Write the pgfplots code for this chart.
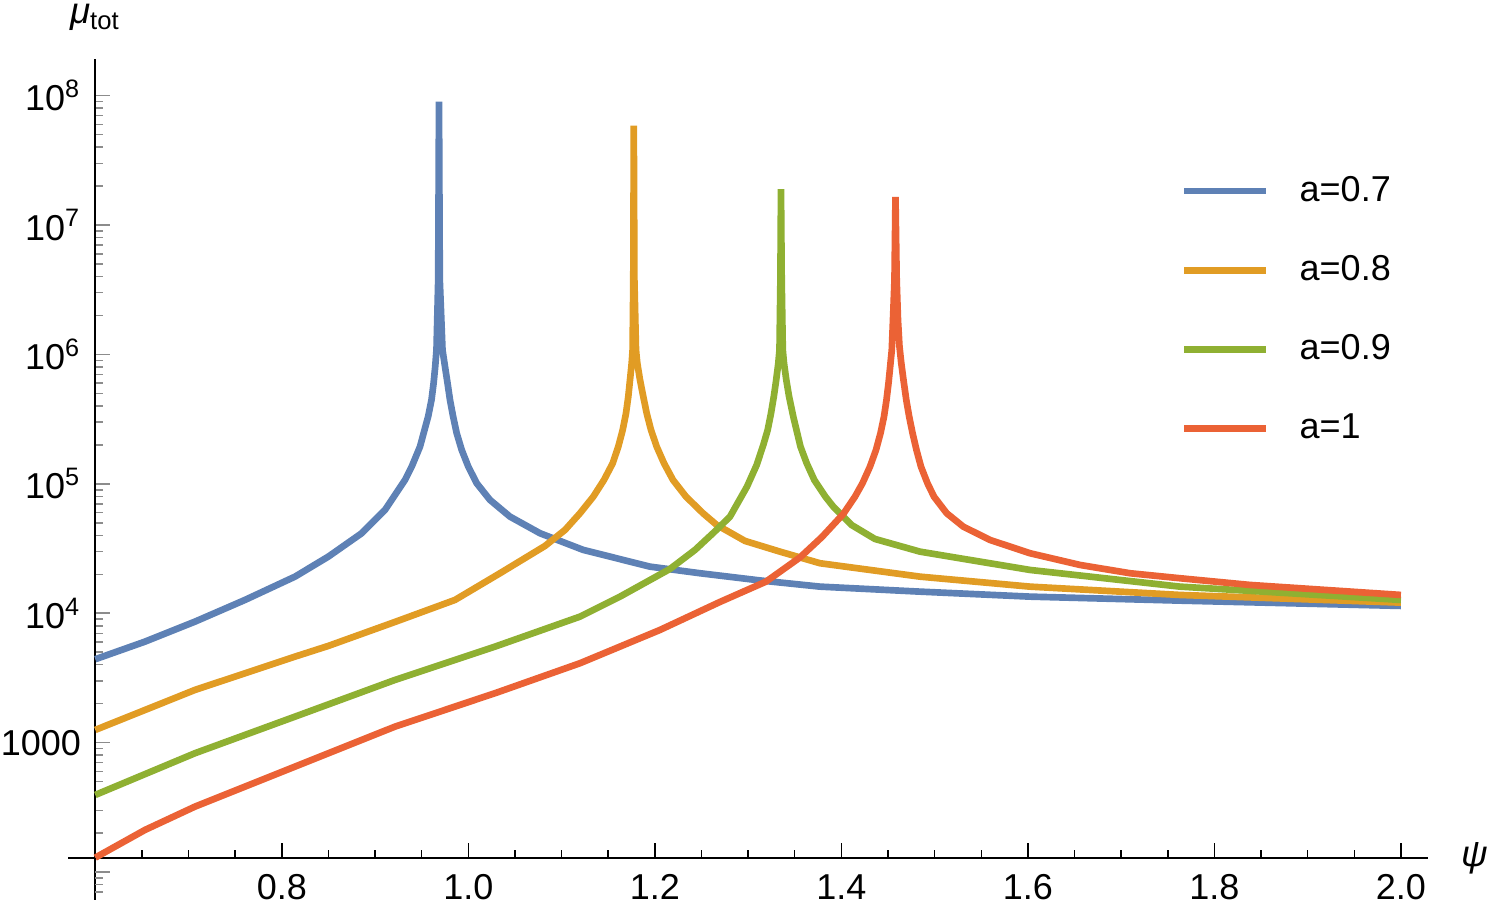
\documentclass[border=0pt]{standalone}
\usepackage{fontspec}
\setmainfont{Liberation Sans}
\usepackage{pgfplots}
\pgfplotsset{compat=1.18}

\definecolor{mblue}{rgb}{0.368417,0.506779,0.709798}
\definecolor{morange}{rgb}{0.880722,0.611041,0.142051}
\definecolor{mgreen}{rgb}{0.560181,0.691569,0.194885}
\definecolor{mred}{rgb}{0.922526,0.385626,0.209179}

\begin{document}
\begin{tikzpicture}
\begin{axis}[
  scale only axis, width=399.9pt, height=239.5pt,
  xmin=0.6, xmax=2.0293, ymin=129.2, ymax=1.91e8,
  ymode=log,
  axis lines=left,
  axis line style={-, line width=0.6pt},
  tick align=inside,
  xtick={0.6,0.8,1.0,1.2,1.4,1.6,1.8,2.0},
  xticklabels={,0.8,1.0,1.2,1.4,1.6,1.8,2.0},
  minor xtick={0.65,0.7,0.75,0.85,0.9,0.95,1.05,1.1,1.15,1.25,1.3,1.35,1.45,1.5,1.55,1.65,1.7,1.75,1.85,1.9,1.95},
  ytick={1e3,1e4,1e5,1e6,1e7,1e8},
  yticklabels={1000,10\textsuperscript{4},10\textsuperscript{5},10\textsuperscript{6},10\textsuperscript{7},10\textsuperscript{8}},
  minor ytick={200,300,400,500,600,700,800,900,
    2e3,3e3,4e3,5e3,6e3,7e3,8e3,9e3,
    2e4,3e4,4e4,5e4,6e4,7e4,8e4,9e4,
    2e5,3e5,4e5,5e5,6e5,7e5,8e5,9e5,
    2e6,3e6,4e6,5e6,6e6,7e6,8e6,9e6,
    2e7,3e7,4e7,5e7,6e7,7e7,8e7,9e7},
  major tick length=4.4pt, minor tick length=2.3pt,
  xtick style={black, line width=0.45pt},
  ytick style={black!45, line width=0.45pt},
  tick label style={font=\fontsize{10.8}{13}\selectfont},
  xticklabel style={yshift=-1.5pt},
  yticklabel style={xshift=-0.8pt},
  clip=false,
  every axis plot/.append style={line width=2pt, line join=bevel},
  legend style={draw=none, fill=none, inner sep=0pt, at={(0.8138,0.8629)}, anchor=north west,
    row sep=10.7pt, font=\fontsize{10.8}{13}\selectfont,
    /tikz/every odd column/.append style={column sep=7.1pt}},
  legend cell align=left,
  legend image code/.code={\draw[#1, line width=2pt] (0pt,0pt) -- (24.6pt,0pt);},
]
\addplot[mblue] coordinates {
(0.6,4411) (0.65329,6033) (0.70690,8612) (0.76052,12670) (0.81413,19180) (0.84984,27380)
(0.88566,41520) (0.91064,62850) (0.93209,107170) (0.93959,137500) (0.94817,193870)
(0.95707,334730) (0.96050,444970) (0.96275,598970) (0.96447,804800) (0.96586,1.0834e6)
(0.96768,3.765e6) (0.96854,8.988e7) (0.96940,3.765e6) (0.97230,1.0834e6)
(0.97498,804800) (0.97766,602290) (0.98034,444970) (0.98356,334730) (0.98753,246050)
(0.99289,182820) (0.99996,135800) (1.00897,101070) (1.02323,75090) (1.04467,55780)
(1.07684,41520) (1.12327,30850) (1.19479,22914) (1.24841,20376) (1.31274,17927)
(1.37708,16055) (1.48431,14686) (1.60226,13436) (1.76310,12515) (2.0,11388)
};
\addlegendentry{a=0.7}
\addplot[morange] coordinates {
(0.6,1253.5) (0.70690,2554.6) (0.81413,4620) (0.84984,5589) (0.92136,8566)
(0.98570,12670) (1.03395,20376) (1.08221,33122) (1.10365,44023) (1.11973,59267)
(1.13400,79630) (1.14547,107170) (1.15480,144270) (1.16080,193870) (1.16552,260910)
(1.16906,351240) (1.17152,471960) (1.17335,635190) (1.17517,855100) (1.17614,1.0834e6)
(1.17689,3.765e6) (1.17742,5.864e7) (1.17807,3.765e6) (1.17978,1.0834e6) (1.18118,855100)
(1.18408,635190) (1.18761,471960) (1.19126,351240) (1.19587,260910) (1.20198,193870)
(1.20981,144270) (1.21946,107170) (1.23340,79630) (1.25163,59267) (1.26632,48127)
(1.29667,36199) (1.33419,29923) (1.37708,24345) (1.48431,19180) (1.60226,16055)
(1.76310,13848) (2.0,12078)
};
\addlegendentry{a=0.8}
\addplot[mgreen] coordinates {
(0.6,394.3) (0.70690,828.2) (0.81413,1588) (0.92136,3051.5) (1.02859,5519.6) (1.11973,9413)
(1.16262,13436) (1.21624,21994) (1.24305,30850) (1.26267,41746) (1.28058,55780)
(1.29880,95150) (1.30921,139990) (1.31629,199810) (1.32100,260910)
(1.32454,351240) (1.32755,471960) (1.33012,635190) (1.33237,855100) (1.33366,1.0834e6)
(1.33463,3.765e6) (1.33527,1.8911e7) (1.33602,3.765e6) (1.33720,1.0834e6) (1.33848,855100)
(1.34095,635190) (1.34395,471960) (1.34845,330590) (1.35617,193870) (1.36282,144270)
(1.37097,107170) (1.38287,79630) (1.39134,66650) (1.41086,48127) (1.43595,37515)
(1.48431,29923) (1.60226,21607) (1.76310,16055) (2.0,12670)
};
\addlegendentry{a=0.9}
\addplot[mred] coordinates {
(0.6,129.2) (0.65329,211.5) (0.70690,320.2) (0.76052,457.1) (0.81413,652.4) (0.92136,1329)
(1.02859,2409) (1.11973,4108) (1.20551,7428.5) (1.26985,12229) (1.31918,17547) (1.35563,26990)
(1.37922,38870) (1.40206,58536) (1.41461,79630) (1.42265,101070) (1.43069,135800)
(1.43713,182820) (1.44196,246050) (1.44571,330590) (1.44839,444970) (1.45054,598970)
(1.45268,855100) (1.45408,1.0834e6) (1.45535,1.8477e6) (1.45696,3.765e6) (1.45803,1.6488e7)
(1.45932,3.765e6) (1.46071,1.8477e6) (1.46232,1.1489e6) (1.46425,855100) (1.46661,635190)
(1.46961,444970) (1.47272,330590) (1.47636,246050) (1.48054,182820) (1.48537,135800)
(1.49234,101070) (1.49931,79630) (1.51294,59267) (1.53074,46690) (1.55935,36857)
(1.60226,29088) (1.65587,23621) (1.70948,20376) (1.76310,18643) (1.83816,16546) (2.0,13848)
};
\addlegendentry{a=1}

% Mathematica-style axis pieces beyond the origin
\draw[line width=0.6pt] (axis cs:0.571,129.2) -- (axis cs:0.6,129.2);
\draw[line width=0.6pt] (axis cs:0.6,129.2) -- (axis cs:0.6,60.9);
\draw[black!45, line width=0.45pt] (axis cs:0.6,100) -- ([xshift=4.4pt]axis cs:0.6,100);
\draw[black!45, line width=0.45pt] (axis cs:0.6,90) -- ([xshift=2.3pt]axis cs:0.6,90);
\draw[black!45, line width=0.45pt] (axis cs:0.6,80) -- ([xshift=2.3pt]axis cs:0.6,80);
\draw[black!45, line width=0.45pt] (axis cs:0.6,70) -- ([xshift=2.3pt]axis cs:0.6,70);

\node[anchor=base, yshift=10.6pt] at (rel axis cs:0,1) {\fontsize{11}{13}\selectfont\textit{μ}\textsubscript{tot}};
\node[anchor=base, xshift=14pt, yshift=-2.8pt] at (rel axis cs:1,0) {\fontsize{11}{13}\selectfont\textit{ψ}};

\coordinate (bbsw) at (axis cs:0.4978,57.7);
\coordinate (bbne) at (axis cs:2.1009,5.49e8);
\end{axis}
\pgfresetboundingbox
\useasboundingbox (bbsw) rectangle (bbne);
\end{tikzpicture}
\end{document}
